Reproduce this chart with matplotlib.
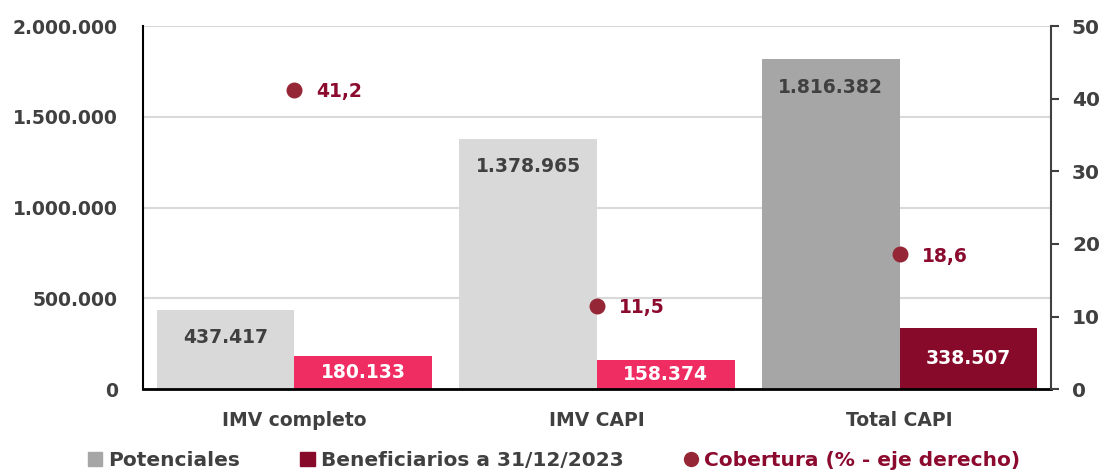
import numpy as np
import matplotlib
matplotlib.use("Agg")
import matplotlib.pyplot as plt
from matplotlib.lines import Line2D
from matplotlib.patches import Patch

plt.rcParams['font.family'] = ['DejaVu Sans']
plt.rcParams['font.weight'] = 'bold'

# data
categories = ['IMV completo', 'IMV CAPI', 'Total CAPI']
potenciales = [437417, 1378965, 1816382]
beneficiarios = [180133, 158374, 338507]
cobertura = [41.2, 11.5, 18.6]

pot_colors = ['#D9D9D9', '#D9D9D9', '#A6A6A6']
ben_colors = ['#F02D62', '#F02D62', '#870A2B']
dot_color = '#952636'
label_red = '#8B0A2E'
text_grey = '#404040'
fs = 13


def fmt_miles(v):
    return format(int(v), ',').replace(',', '.')


fig = plt.figure(figsize=(11.08, 4.74), dpi=100)
ax = fig.add_axes([0.129, 0.179, 0.8196, 0.766])
ax2 = ax.twinx()

x = np.arange(len(categories))
w = 0.455
b1 = ax.bar(x - w / 2, potenciales, w, color=pot_colors, zorder=2)
b2 = ax.bar(x + w / 2, beneficiarios, w, color=ben_colors, zorder=2)

# value labels: potenciales near the top inside, beneficiarios centred
for rect, v in zip(b1, potenciales):
    ax.annotate(fmt_miles(v), (rect.get_x() + rect.get_width() / 2, v),
                xytext=(0, -28), textcoords='offset pixels',
                ha='center', va='center', fontsize=fs + 0.5, color=text_grey, fontweight='bold')
for rect, v in zip(b2, beneficiarios):
    ax.text(rect.get_x() + rect.get_width() / 2, v / 2, fmt_miles(v),
            ha='center', va='center', fontsize=fs + 0.5, color='white', fontweight='bold')

# coverage dots on the right axis
ax2.scatter(x, cobertura, s=110, color=dot_color, zorder=5)
for xi, c in zip(x, cobertura):
    ax2.annotate(f'{c:.1f}'.replace('.', ','), (xi, c), xytext=(22, -2),
                 textcoords='offset pixels', ha='left', va='center',
                 fontsize=fs + 0.5, color=label_red, fontweight='bold')

ax.set_xlim(-0.5, 2.5)
ax.set_ylim(0, 2000000)
ax.set_yticks(np.arange(0, 2000001, 500000))
ax.set_yticklabels([fmt_miles(t) for t in np.arange(0, 2000001, 500000)])
ax2.set_ylim(0, 50)
ax2.set_yticks(np.arange(0, 51, 10))

ax.set_xticks(x)
ax.set_xticklabels(categories)
ax.tick_params(axis='x', length=0, pad=16, labelsize=fs + 0.5, labelcolor=text_grey)
ax.tick_params(axis='y', length=0, pad=18, labelsize=fs + 0.5, labelcolor=text_grey)
ax2.tick_params(axis='y', length=6, width=1.5, color=text_grey, pad=9,
                labelsize=fs + 1.5, labelcolor=text_grey)

ax.grid(axis='y', color='#D9D9D9', linewidth=1.5, zorder=0)
ax.set_axisbelow(True)
for a in (ax, ax2):
    a.spines['top'].set_visible(False)
ax2.spines['left'].set_visible(False)
ax2.spines['bottom'].set_visible(False)
ax.spines['right'].set_visible(False)
ax.spines['left'].set_color('black')
ax.spines['left'].set_linewidth(1.5)
ax.spines['bottom'].set_color('black')
ax.spines['bottom'].set_linewidth(2)
ax2.spines['right'].set_color(text_grey)
ax2.spines['right'].set_linewidth(1.5)

handles = [
    Patch(color='#A6A6A6', label='Potenciales'),
    Patch(color='#870A2B', label='Beneficiarios a 31/12/2023'),
    Line2D([], [], marker='o', linestyle='none', color=dot_color, markersize=10,
           label='Cobertura (% - eje derecho)'),
]
leg = fig.legend(handles=handles, loc='lower center', bbox_to_anchor=(0.5, -0.03),
                 ncol=3, frameon=False, fontsize=14.5, handlelength=0.7,
                 handleheight=0.7, handletextpad=0.3, columnspacing=3.0)
for t, col in zip(leg.get_texts(), [text_grey, text_grey, label_red]):
    t.set_color(col)

fig.savefig('out.png', dpi=100)
